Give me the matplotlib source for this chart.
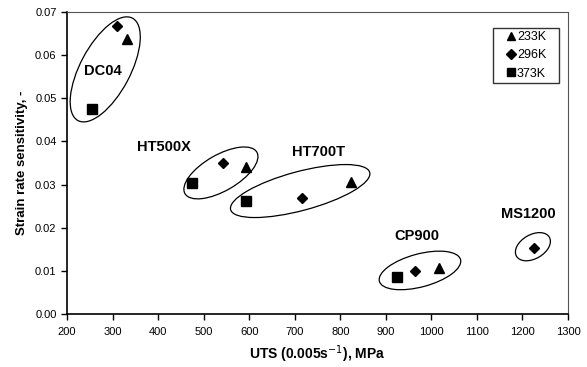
import matplotlib
matplotlib.use('Agg')
import matplotlib.pyplot as plt
from matplotlib.patches import Ellipse
from matplotlib.transforms import ScaledTranslation

plt.rcParams['font.family'] = ['Liberation Sans', 'DejaVu Sans']

# UTS (MPa) and strain rate sensitivity per test temperature
uts_233 = [332, 592, 823, 1017]
srs_233 = [0.0637, 0.0341, 0.0307, 0.0107]
uts_296 = [310, 542, 717, 965, 1226]
srs_296 = [0.0668, 0.0349, 0.0270, 0.0100, 0.0152]
uts_373 = [254, 474, 594, 925]
srs_373 = [0.0475, 0.0304, 0.0261, 0.0086]

# steel grades: label position and group ellipse (center in data, size in px, angle)
grades = ['DC04', 'HT500X', 'HT700T', 'CP900', 'MS1200']
label_x = [279, 413, 753, 968, 1213]
label_y = [0.0564, 0.0388, 0.0375, 0.0181, 0.0231]
ell_x = [284, 538, 712, 975, 1223]
ell_y = [0.0567, 0.0327, 0.0285, 0.0101, 0.0156]
ell_w = [116, 83, 144, 84, 38]
ell_h = [50, 36, 39, 33, 24]
ell_ang = [62, 30, 15, 15, 30]

fig = plt.figure(figsize=(5.87, 3.67), dpi=100)
ax = fig.add_axes([0.1141, 0.1444, 0.8535, 0.8229])

ax.plot(uts_233, srs_233, '^', color='black', ms=7, label='233K')
ax.plot(uts_296, srs_296, 'D', color='black', ms=5.5, label='296K')
ax.plot(uts_373, srs_373, 's', color='black', ms=7, label='373K')

for i, g in enumerate(grades):
    tr = fig.dpi_scale_trans + ScaledTranslation(ell_x[i], ell_y[i], ax.transData)
    e = Ellipse((0, 0), ell_w[i] / 100, ell_h[i] / 100, angle=ell_ang[i],
                fill=False, edgecolor='black', lw=0.9, transform=tr)
    ax.add_patch(e)
    ax.text(label_x[i], label_y[i], g, fontsize=10.5, fontweight='bold',
            ha='center', va='center')

ax.set_xlim(200, 1300)
ax.set_ylim(0, 0.07)
ax.set_xticks(range(200, 1301, 100))
ax.set_yticks([0, 0.01, 0.02, 0.03, 0.04, 0.05, 0.06, 0.07])
ax.set_yticklabels(['%.2f' % v for v in ax.get_yticks()])
ax.tick_params(direction='out', labelsize=8, length=4, width=1)
ax.tick_params(axis='x', pad=5)
for s in ['top', 'right']:
    ax.spines[s].set_color('#555555')
for s in ['left', 'bottom']:
    ax.spines[s].set_linewidth(1.2)

ax.set_xlabel('UTS (0.005s$^{-1}$), MPa', fontsize=10, fontweight='bold', labelpad=5)
ax.set_ylabel('Strain rate sensitivity, -', fontsize=9.5, fontweight='bold', labelpad=5)

leg = ax.legend(loc='upper left', bbox_to_anchor=(0.850, 0.762, 0.132, 0.185),
                mode='expand', borderaxespad=0, fontsize=9,
                frameon=True, fancybox=False, handlelength=2.4, handletextpad=-0.72,
                borderpad=0.25, labelspacing=0.5, markerscale=0.85)
leg.get_frame().set_edgecolor('black')
leg.get_frame().set_linewidth(1)

fig.savefig('out.png', dpi=100)
plt.close()
